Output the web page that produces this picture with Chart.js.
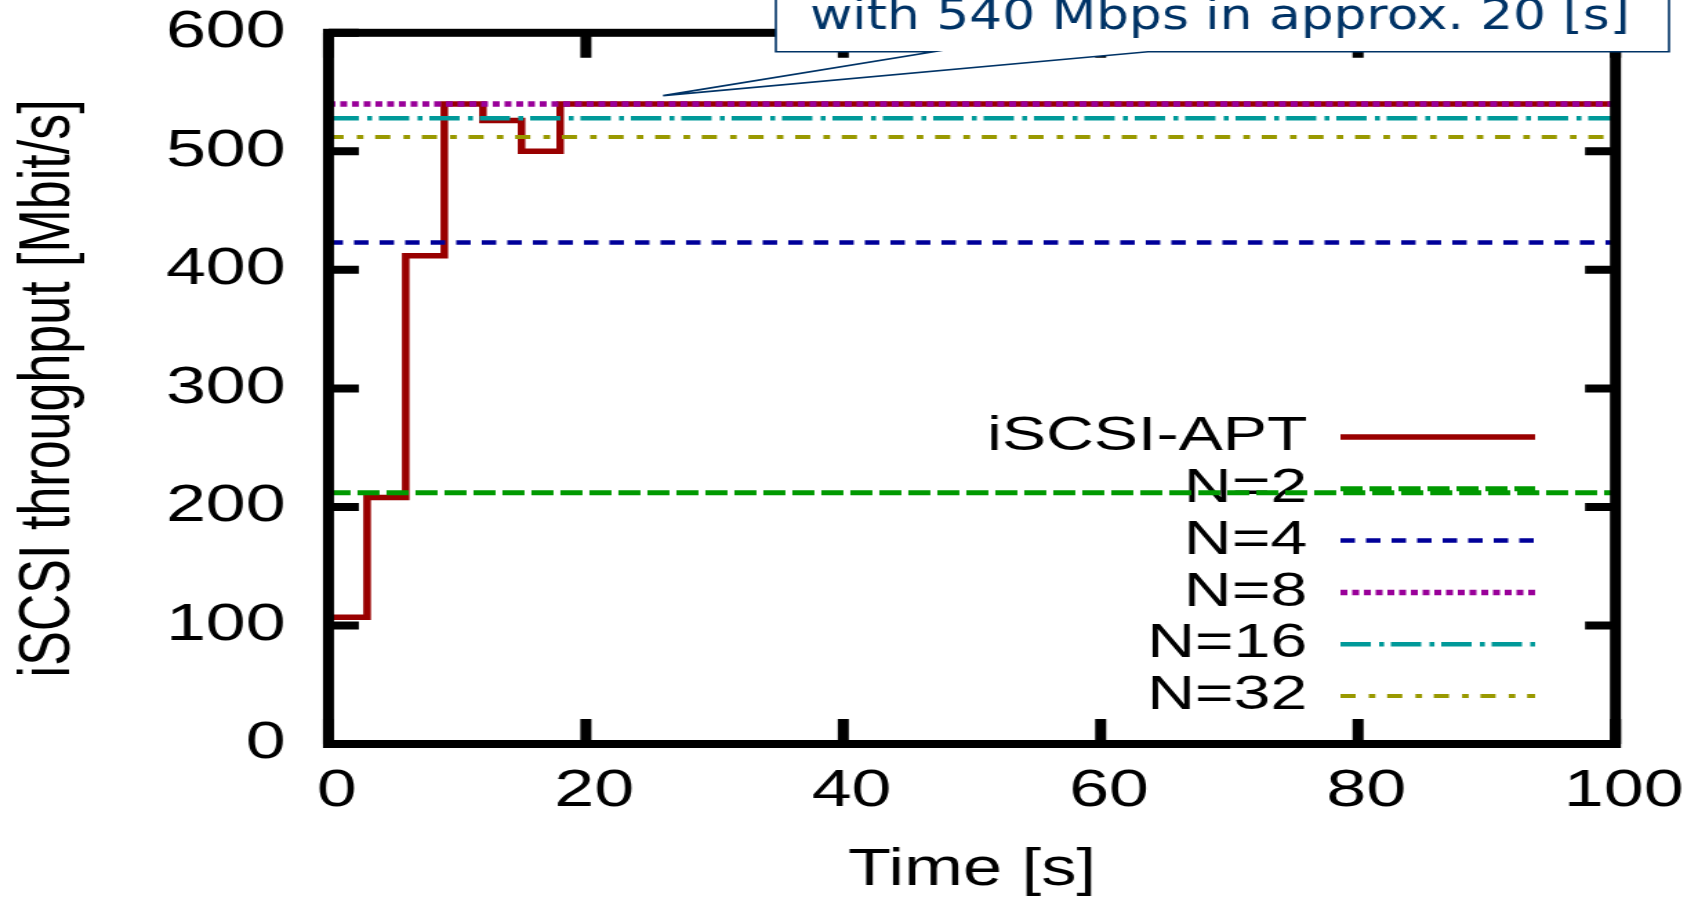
<!DOCTYPE html>
<html>
<head>
<meta charset="utf-8">
<script src="https://cdn.jsdelivr.net/npm/chart.js@4"></script>
<style>
  html, body { margin: 0; padding: 0; background: #fff; }
</style>
</head>
<body>
<!-- the old gnuplot figure is stretched sideways, so the canvas is narrower than its css box -->
<canvas id="chart" width="1230" height="898" style="display:block;width:1698px;height:898px"></canvas>
<script>
// iSCSI-APT step curve
const timeSec = [0, 3, 6, 9, 12, 15, 18, 100];
const aptMbps = [107, 208, 412, 540, 526, 500, 540, 540];

// fixed N runs (flat lines)
const fixedLabels = ["N=2", "N=4", "N=8", "N=16", "N=32"];
const fixedMbps = [212, 423, 540, 528, 512];
const timeSpan = [0, 100];

// axis ticks
const xTicks = [0, 20, 40, 60, 80, 100];
const yTicks = [0, 100, 200, 300, 400, 500, 600];

// callout
const calloutText = "with 540 Mbps in approx. 20 [s]";
const calloutTip = [26, 547]; // time, Mbps

// styles
const aptColor = "#990000";
const fixedColors = ["#009900", "#000099", "#990099", "#009999", "#999900"];
const fixedDash = [[16, 5], [10.5, 8], [5, 3.5], [22, 6, 3.6, 4.9], [11, 9.5, 4.8, 8.5]];
const fixedWidth = [5, 4.5, 5.5, 4.5, 4];
const navy = "#003366";
const FONT = "'Liberation Sans', Arial, sans-serif";

Chart.defaults.font.family = FONT;
Chart.defaults.color = "#000";

const datasets = [
  {
    label: "iSCSI-APT",
    data: timeSec.map((t, i) => ({ x: t, y: aptMbps[i] })),
    borderColor: aptColor,
    borderWidth: 5.5,
    stepped: true,
    pointRadius: 0,
    pointStyle: "line",
    order: 6,
  },
];
fixedLabels.forEach((label, i) => {
  datasets.push({
    label: label,
    data: timeSpan.map((t) => ({ x: t, y: fixedMbps[i] })),
    borderColor: fixedColors[i],
    borderWidth: fixedWidth[i],
    borderDash: fixedDash[i],
    pointRadius: 0,
    pointStyle: "line",
    order: 5 - i, // later series on top, like gnuplot
  });
});

// legend sits inside the plot, right aligned
const legendPlace = {
  id: "legendPlace",
  afterLayout(chart) {
    const lg = chart.legend;
    const pad = lg.options.labels.padding;
    const sampleRight = 1112;
    const firstRowTop = 413;
    const w = lg.width;
    lg.left = sampleRight + pad - w;
    lg.right = lg.left + w;
    lg.top = firstRowTop - pad;
    lg.height = 400;
    lg.bottom = lg.top + lg.height;
  },
};

// gnuplot frame with inward ticks on all four sides
const frameTicks = {
  id: "frameTicks",
  afterDatasetsDraw(chart) {
    const { ctx, chartArea: a, scales } = chart;
    ctx.save();
    ctx.strokeStyle = "#000";
    ctx.lineWidth = 8;
    ctx.lineCap = "butt";
    ctx.beginPath();
    scales.x.ticks.forEach((t) => {
      const px = scales.x.getPixelForValue(t.value);
      ctx.moveTo(px, a.bottom);
      ctx.lineTo(px, a.bottom - 25);
      ctx.moveTo(px, a.top);
      ctx.lineTo(px, a.top + 25);
    });
    scales.y.ticks.forEach((t) => {
      const py = scales.y.getPixelForValue(t.value);
      ctx.moveTo(a.left, py);
      ctx.lineTo(a.left + 22, py);
      ctx.moveTo(a.right, py);
      ctx.lineTo(a.right - 22, py);
    });
    ctx.stroke();
    ctx.strokeRect(a.left, a.top, a.right - a.left, a.bottom - a.top);
    ctx.restore();
  },
};

// speech-bubble note pointing at the 540 line
const callout = {
  id: "callout",
  afterDraw(chart) {
    const { ctx, scales } = chart;
    const tipX = scales.x.getPixelForValue(calloutTip[0]);
    const tipY = scales.y.getPixelForValue(calloutTip[1]);
    const box = { left: 562, right: 1209, top: -20, bottom: 51.7 };
    const baseL = 676;
    const baseR = 831.6;

    ctx.save();
    ctx.fillStyle = "#fff";
    ctx.strokeStyle = navy;
    ctx.lineWidth = 1.6;
    ctx.lineJoin = "miter";
    ctx.beginPath();
    ctx.moveTo(box.left, box.top);
    ctx.lineTo(box.right, box.top);
    ctx.lineTo(box.right, box.bottom);
    ctx.lineTo(baseR, box.bottom);
    ctx.lineTo(tipX, tipY);
    ctx.lineTo(baseL, box.bottom);
    ctx.lineTo(box.left, box.bottom);
    ctx.closePath();
    ctx.fill();
    ctx.stroke();

    // text is tall and narrow in the original, so squeeze it to its width
    ctx.fillStyle = navy;
    ctx.font = "42px 'DejaVu Sans', Verdana, sans-serif";
    ctx.textBaseline = "alphabetic";
    ctx.textAlign = "left";
    const w = ctx.measureText(calloutText).width;
    ctx.translate(586.7, 28.8);
    ctx.scale(594 / w, 1);
    ctx.fillText(calloutText, 0, 0);
    ctx.restore();
  },
};

new Chart(document.getElementById("chart"), {
  type: "line",
  data: { datasets: datasets },
  options: {
    responsive: false,
    devicePixelRatio: 1,
    animation: false,
    layout: {
      autoPadding: false,
      padding: { top: 32.8, right: 59.8, bottom: 0, left: 0 },
    },
    plugins: {
      tooltip: { enabled: false },
      legend: {
        position: "chartArea",
        align: "start",
        rtl: true,
        labels: {
          usePointStyle: true,
          pointStyleWidth: 141,
          padding: 3.8,
          color: "#000",
          font: { size: 48, family: FONT },
          sort: (a, b) => a.datasetIndex - b.datasetIndex,
          generateLabels(chart) {
            const items = Chart.defaults.plugins.legend.labels.generateLabels(chart);
            items.forEach((it) => {
              const ds = chart.data.datasets[it.datasetIndex];
              it.lineDash = ds.borderDash || [];
              it.lineWidth = ds.borderWidth;
              it.strokeStyle = ds.borderColor;
              it.fillStyle = ds.borderColor;
              it.pointStyle = "line";
              it.fontColor = "#000";
            });
            return items;
          },
        },
      },
    },
    scales: {
      x: {
        type: "linear",
        min: 0,
        max: 100,
        afterBuildTicks: (s) => { s.ticks = xTicks.map((v) => ({ value: v })); },
        afterFit: (s) => { s.height = 154; },
        // tickLength only spaces the labels; the real ticks are drawn by frameTicks
        grid: { display: false, drawTicks: true, tickLength: 16.6 },
        border: { display: false },
        ticks: {
          padding: 0,
          labelOffset: 6,
          maxRotation: 0,
          autoSkip: false,
          color: "#000",
          font: { size: 52 },
        },
        title: {
          display: true,
          text: "Time [s]",
          color: "#000",
          font: { size: 51, lineHeight: 1 },
          padding: { top: 0, bottom: 2 },
        },
      },
      y: {
        type: "linear",
        min: 0,
        max: 600,
        afterBuildTicks: (s) => { s.ticks = yTicks.map((v) => ({ value: v })); },
        afterFit: (s) => { s.width = 237.95; },
        grid: { display: false, drawTicks: true, tickLength: 31 },
        border: { display: false },
        ticks: {
          padding: 0,
          autoSkip: false,
          color: "#000",
          font: { size: 52 },
        },
        title: {
          display: true,
          text: "iSCSI throughput [Mbit/s]",
          color: "#000",
          font: { size: 52, lineHeight: 1.2 },
          padding: { top: 4.5, bottom: 0 },
        },
      },
    },
  },
  plugins: [legendPlace, frameTicks, callout],
});
</script>
</body>
</html>
